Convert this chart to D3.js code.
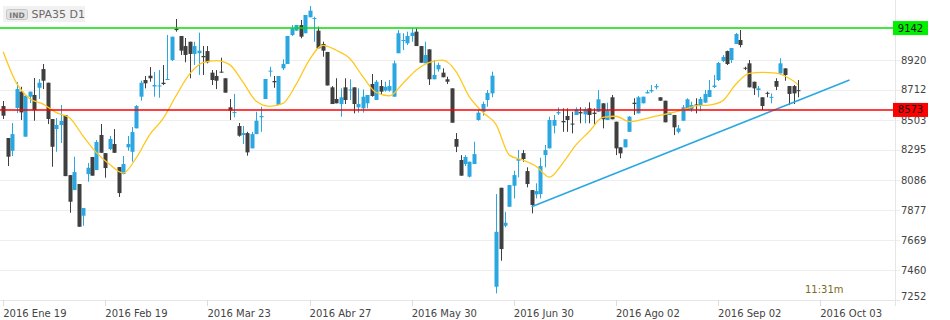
<!DOCTYPE html>
<html>
<head>
<meta charset="utf-8">
<script src="https://cdn.jsdelivr.net/npm/d3@7"></script>
<style>
  body { margin: 0; background: #fff; }
  svg { display: block; font-family: "DejaVu Sans", Verdana, sans-serif; }
</style>
</head>
<body>
<div id="chart"></div>
<script>
// SPA35 daily candles, 2016 Ene 19 .. end of Sep (one entry per bar)
var open = [
  8600,8378,8289,8586,8700,8387,8665,8677,8727,8857,
  8762,8510,8440,8468,8538,8120,8016,8058,7838,8127,
  8246,8155,8399,8273,8301,8336,8176,8127,8313,8282,
  8445,8665,8781,8811,8736,8736,8762,8781,8920,9138,
  9087,9017,9047,8962,8967,8948,8982,8832,8809,8839,
  8793,8591,8551,8461,8399,8412,8306,8405,8522,8649,
  8839,8774,8607,8862,8892,9094,9124,9163,9106,9217,
  9205,9124,9031,8976,8730,8649,8614,8730,8708,8730,
  8591,8584,8619,8753,8642,8739,8707,8707,8665,8967,
  9052,9036,9087,9117,9017,8897,8994,8786,8855,8832,
  8786,8723,8371,8225,8197,8109,8197,8503,8560,8642,
  8688,7344,8032,7768,7900,8046,8220,8273,8148,8016,
  7986,7988,8259,8306,8463,8549,8496,8531,8478,8538,
  8558,8542,8584,8554,8560,8619,8503,8661,8491,8313,
  8313,8421,8623,8549,8619,8688,8702,8730,8661,8637,
  8538,8538,8421,8498,8572,8577,8611,8600,8624,8663,
  8732,8781,8913,8982,8920,9031,9059,8866,8897,8769,
  8711,8661,8692,8657,8774,8827,8862,8739,8739,8710
];
var high = [
  8635,8378,8482,8767,8734,8672,8700,8795,8788,8892,
  8762,8510,8517,8607,8538,8120,8248,8058,7891,8204,
  8246,8364,8475,8273,8392,8440,8176,8253,8392,8454,
  8607,8776,8809,8871,8837,8850,8885,9094,9082,9205,
  9087,9073,9047,9047,9110,9017,9017,8850,8850,8936,
  8793,8649,8684,8482,8461,8421,8421,8560,8595,8788,
  8873,8809,8809,8925,9087,9163,9163,9198,9233,9295,
  9221,9151,9047,8976,8739,8793,8723,8793,8786,8730,
  8723,8716,8677,8823,8781,8781,8769,8781,8915,9128,
  9106,9117,9140,9140,9017,9047,8994,8920,8901,8862,
  8804,8723,8412,8259,8259,8213,8352,8572,8630,8711,
  8839,7988,8032,7865,8051,8150,8294,8294,8174,8016,
  8063,8241,8329,8526,8538,8591,8584,8584,8560,8591,
  8591,8591,8626,8584,8711,8619,8623,8677,8491,8313,
  8369,8531,8654,8670,8665,8711,8746,8753,8661,8637,
  8554,8538,8468,8607,8654,8630,8654,8663,8711,8781,
  8816,8906,8955,8985,9003,9108,9128,8873,8920,8769,
  8739,8661,8700,8688,8793,8932,8862,8739,8746,8781
];
var low = [
  8510,8183,8253,8551,8503,8387,8621,8498,8649,8718,
  8475,8178,8282,8343,8113,7858,8016,7761,7768,8074,
  8116,8155,8275,8102,8294,8275,7968,8127,8289,8213,
  8445,8637,8723,8769,8665,8658,8746,8781,8913,9117,
  8955,8904,8793,8885,8816,8816,8897,8746,8718,8832,
  8693,8503,8522,8387,8336,8255,8306,8405,8421,8649,
  8804,8727,8607,8850,8892,9087,9124,9071,9106,9217,
  9047,9001,8943,8743,8614,8619,8526,8614,8642,8549,
  8554,8554,8584,8665,8642,8681,8700,8700,8665,8967,
  8989,9024,9047,9017,8901,8897,8746,8786,8839,8800,
  8753,8484,8280,8116,8183,8104,8197,8498,8533,8595,
  8661,7298,7525,7757,7900,7958,8104,8213,8035,7854,
  7958,7958,8174,8306,8410,8538,8421,8421,8410,8538,
  8480,8480,8480,8473,8560,8445,8503,8508,8259,8237,
  8313,8421,8538,8549,8619,8688,8693,8716,8637,8487,
  8538,8398,8410,8498,8572,8560,8549,8565,8621,8663,
  8725,8774,8906,8885,8899,9031,9008,8850,8730,8677,
  8661,8572,8661,8619,8711,8823,8776,8607,8614,8661
];
var close = [
  8533,8248,8405,8718,8556,8672,8700,8572,8762,8776,
  8510,8317,8468,8496,8113,7935,8141,7761,7891,8171,
  8116,8350,8275,8169,8371,8275,7995,8197,8336,8419,
  8600,8762,8758,8793,8746,8743,8753,8788,9082,9128,
  8985,8955,8962,9017,8985,8939,8904,8781,8776,8832,
  8693,8568,8558,8394,8412,8278,8405,8498,8531,8788,
  8846,8765,8809,8892,9087,9140,9163,9082,9233,9263,
  9212,9001,8985,8743,8614,8619,8661,8642,8715,8614,
  8614,8665,8677,8670,8769,8700,8734,8739,8897,9106,
  9059,9087,9110,9017,8901,8955,8786,8816,8885,8800,
  8769,8484,8317,8116,8246,8213,8266,8554,8614,8691,
  8811,7726,7606,7789,8051,8120,8232,8232,8058,7912,
  8009,8183,8294,8503,8503,8558,8487,8503,8471,8577,
  8549,8577,8538,8545,8647,8508,8568,8508,8306,8271,
  8369,8526,8614,8661,8665,8697,8711,8739,8637,8487,
  8554,8452,8445,8591,8647,8607,8604,8649,8684,8711,
  8743,8899,8941,8892,9003,9101,9024,8859,8730,8723,
  8723,8600,8685,8664,8734,8897,8816,8684,8688,8703
];

// moving average, every 3 bars
var maIndex = [0,3,6,9,12,15,18,21,24,27,30,33,36,39,42,45,48,51,54,57,
  60,63,66,69,72,75,78,81,84,87,90,93,96,99,102,105,108,111,114,117,
  120,123,126,129,132,135,138,141,144,147,150,153,156,159,162,165,168,171,174,177,179];
var maValue = [8978,8759,8651,8613,8554,8517,8391,8276,8193,8134,8241,8401,8512,8675,8823,8902,8916,8888,8766,8633,
  8598,8618,8752,8923,9021,8988,8932,8804,8694,8671,8757,8849,8904,8919,8840,8663,8557,8471,8259,8225,
  8182,8106,8202,8330,8423,8521,8529,8492,8507,8530,8549,8573,8601,8607,8636,8751,8827,8834,8829,8793,8750];

// date axis: a label every 23 bars
var tickIndex = [0, 23, 46, 69, 92, 115, 138, 161, 184];
var tickLabels = ["2016 Ene 19", "2016 Feb 19", "2016 Mar 23", "2016 Abr 27", "2016 May 30",
  "2016 Jun 30", "2016 Ago 02", "2016 Sep 02", "2016 Oct 03"];
var priceTicks = [7252, 7460, 7669, 7877, 8086, 8295, 8503, 8712, 8920];

var resistance = 9142;
var support = 8573;
var trendIndex = [119, 190.6];
var trendValue = [7900, 8781];

var width = 950, height = 320;
var plotRight = 895, plotBottom = 300;
var upColor = "#2aa7e0", downColor = "#3f3f3f";

var svg = d3.select("#chart").append("svg")
  .attr("width", width)
  .attr("height", height);

svg.append("rect").attr("width", width).attr("height", height).attr("fill", "#fff");

var x = d3.scaleLinear().domain([0, 184]).range([3.2, 820.2]);
var y = d3.scaleLinear().domain([7252, 9337]).range([plotBottom, 0]);

// grid
svg.append("g")
  .selectAll("line")
  .data(priceTicks)
  .join("line")
  .attr("x1", 0).attr("x2", plotRight + 5)
  .attr("y1", d => Math.round(y(d)) + 0.5)
  .attr("y2", d => Math.round(y(d)) + 0.5)
  .attr("stroke", "#eeeeee");

// frame: right price axis and bottom date axis
svg.append("line")
  .attr("x1", plotRight + 0.5).attr("x2", plotRight + 0.5)
  .attr("y1", 0).attr("y2", plotBottom + 6)
  .attr("stroke", "#e6e6e6");
svg.append("line")
  .attr("x1", 0).attr("x2", plotRight + 5)
  .attr("y1", plotBottom + 0.5).attr("y2", plotBottom + 0.5)
  .attr("stroke", "#e6e6e6");

var xAxis = svg.append("g");
xAxis.selectAll("line")
  .data(tickIndex)
  .join("line")
  .attr("x1", d => Math.round(x(d)) + 0.5)
  .attr("x2", d => Math.round(x(d)) + 0.5)
  .attr("y1", plotBottom).attr("y2", plotBottom + 6)
  .attr("stroke", "#dddddd");
xAxis.selectAll("text")
  .data(tickIndex)
  .join("text")
  .attr("x", d => x(d))
  .attr("y", 313)
  .attr("dominant-baseline", "central")
  .attr("font-size", 10)
  .attr("fill", "#444")
  .text((d, i) => tickLabels[i]);

svg.append("g")
  .selectAll("text")
  .data(priceTicks)
  .join("text")
  .attr("x", 901)
  .attr("y", d => Math.min(y(d), 296))
  .attr("dominant-baseline", "central")
  .attr("font-size", 10)
  .attr("fill", "#444")
  .text(d => d);

// candles
var bars = d3.range(open.length);
var candles = svg.append("g").selectAll("g")
  .data(bars)
  .join("g")
  .attr("fill", i => close[i] >= open[i] ? upColor : downColor)
  .attr("stroke", i => close[i] >= open[i] ? upColor : downColor);

candles.append("line")
  .attr("x1", i => Math.round(x(i)) + 0.5)
  .attr("x2", i => Math.round(x(i)) + 0.5)
  .attr("y1", i => y(high[i]))
  .attr("y2", i => y(low[i]));

candles.append("rect")
  .attr("stroke", "none")
  .attr("x", i => Math.round(x(i)) - 1.5)
  .attr("width", 4)
  .attr("y", i => y(Math.max(open[i], close[i])))
  .attr("height", i => Math.max(1, Math.abs(y(open[i]) - y(close[i]))));

// moving average
var maLine = d3.line()
  .x((d, i) => x(maIndex[i]))
  .y(d => y(d))
  .curve(d3.curveMonotoneX);
svg.append("path")
  .datum(maValue)
  .attr("d", maLine)
  .attr("fill", "none")
  .attr("stroke", "#ffc81e")
  .attr("stroke-width", 1.3);

// trend line
svg.append("line")
  .attr("x1", x(trendIndex[0])).attr("y1", y(trendValue[0]))
  .attr("x2", x(trendIndex[1])).attr("y2", y(trendValue[1]))
  .attr("stroke", upColor)
  .attr("stroke-width", 1.5);

// horizontal levels with their price boxes
var levels = [
  { value: resistance, color: "#00e000", box: "#00f000" },
  { value: support, color: "#ff0000", box: "#ff0000" }
];
var lv = svg.append("g").selectAll("g").data(levels).join("g");
lv.append("line")
  .attr("x1", 0).attr("x2", plotRight)
  .attr("y1", d => y(d.value)).attr("y2", d => y(d.value))
  .attr("stroke", d => d.color)
  .attr("stroke-width", 1.5);
lv.append("rect")
  .attr("x", 893).attr("width", 35)
  .attr("y", d => y(d.value) - 7).attr("height", 14)
  .attr("fill", d => d.box);
lv.append("text")
  .attr("x", 910.5)
  .attr("y", d => y(d.value))
  .attr("text-anchor", "middle")
  .attr("dominant-baseline", "central")
  .attr("font-size", 10)
  .attr("fill", "#111")
  .text(d => d.value);

// header
var head = svg.append("g");
head.append("rect").attr("x", 3).attr("y", 6).attr("width", 82).attr("height", 16).attr("fill", "#f1f1f1");
head.append("rect").attr("x", 6.5).attr("y", 9.5).attr("width", 21).attr("height", 10)
  .attr("rx", 2).attr("fill", "#e2e2e2").attr("stroke", "#c6c6c6");
head.append("text").attr("x", 17).attr("y", 15).attr("text-anchor", "middle")
  .attr("dominant-baseline", "central").attr("font-size", 7.5).attr("font-weight", "bold")
  .attr("fill", "#777").text("IND");
head.append("text").attr("x", 31.5).attr("y", 14.5)
  .attr("dominant-baseline", "central").attr("font-size", 11)
  .attr("fill", "#6a6a6a").text("SPA35 D1");

svg.append("text")
  .attr("x", 805).attr("y", 289)
  .attr("dominant-baseline", "central")
  .attr("font-size", 10)
  .attr("fill", "#7d6a22")
  .text("11:31m");
</script>
</body>
</html>
